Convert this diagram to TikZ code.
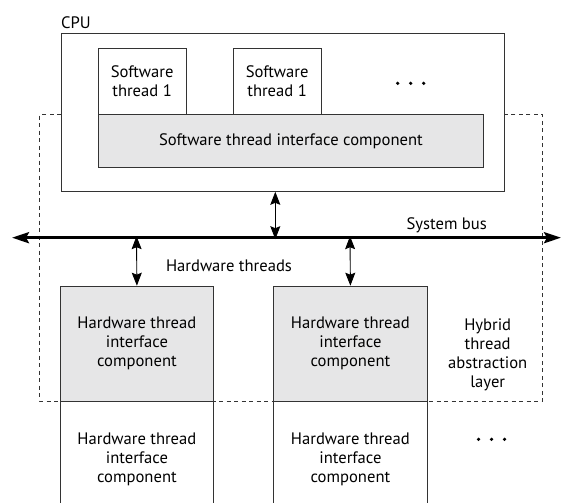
\documentclass[tikz,border=0pt]{standalone}
\usepackage{fontspec}
\setmainfont{PT Sans}
\usetikzlibrary{arrows.meta}
\definecolor{boxgray}{HTML}{E6E6E7}
\definecolor{linec}{HTML}{333333}
\tikzset{
  box/.style={draw=linec, line width=0.8pt, fill=white, align=center, inner sep=0pt, anchor=north west},
  graybox/.style={box, fill=boxgray},
  lbl/.style={align=center, inner sep=0pt},
  twoway/.style={line width=0.9pt, {Stealth[length=13pt,width=10pt,inset=2pt]}-{Stealth[length=13pt,width=10pt,inset=2pt]}},
  busline/.style={line width=3pt, {Stealth[length=17pt,width=11pt,inset=3pt]}-{Stealth[length=17pt,width=11pt,inset=3pt]}},
  layer/.style={draw=linec, line width=0.7pt, dash pattern=on 4pt off 3.5pt},
  dotc/.style={fill=black}
}
\begin{document}
\begin{tikzpicture}[x=1pt,y=-1pt,font=\fontsize{16.6}{19}\selectfont]
\clip (0,0) rectangle (562,503);
\fill[white] (0,0) rectangle (562,503);
% dashed abstraction layer
\draw[layer] (61,114.3) -- (39.7,114.3) -- (39.7,401) -- (542.7,401) -- (542.7,114.3) -- (503.5,114.3);
% CPU
\node[box, minimum width=442.5pt, minimum height=157.7pt] (cpu) at (61,33.3) {};
\node[lbl, anchor=west] (cpulbl) at (61,23) {CPU};
\node[box, minimum width=88pt, minimum height=66.6pt] (sw1) at (97.7,47.7) {Software\\thread 1};
\node[box, minimum width=88pt, minimum height=66.6pt] (sw2) at (232.7,47.7) {Software\\thread 1};
\node[graybox, minimum width=385.6pt, minimum height=53pt] (stic) at (97.7,114.3) {Software thread interface component};
\fill[dotc] (397.7,83.3) circle (1.8pt) (410.7,83.3) circle (1.8pt) (423.7,83.3) circle (1.8pt);
% bus
\coordinate (busl) at (12,237.7);
\coordinate (busr) at (561,237.7);
\draw[busline] (busl) -- (busr);
\node[lbl] (buslbl) at (446.7,225) {System bus};
% hardware
\node[graybox, minimum width=153.6pt, minimum height=115.3pt] (hw1) at (59.7,285.7) {Hardware thread\\interface\\component};
\node[graybox, minimum width=153.4pt, minimum height=115.3pt] (hw2) at (273.3,285.7) {Hardware thread\\interface\\component};
\node[box, minimum width=153.6pt, minimum height=116pt] (hwb1) at (59.7,401) {Hardware thread\\interface\\component};
\node[box, minimum width=153.4pt, minimum height=116pt] (hwb2) at (273.3,401) {Hardware thread\\interface\\component};
\node[lbl] (hwlbl) at (229,265.7) {Hardware threads};
\node[lbl] (hybrid) at (487.7,355) {Hybrid\\thread\\abstraction\\layer};
\fill[dotc] (478.5,439.3) circle (1.8pt) (491.5,439.3) circle (1.8pt) (504.5,439.3) circle (1.8pt);
% connectors
\coordinate (bc) at (275.3,239.2);
\coordinate (bh1) at (136.5,236.2);
\coordinate (bh2) at (350,236.2);
\draw[twoway] (cpu.south -| bc) -- (bc);
\draw[twoway] (bh1) -- (hw1.north);
\draw[twoway] (bh2) -- (hw2.north);
\end{tikzpicture}
\end{document}
